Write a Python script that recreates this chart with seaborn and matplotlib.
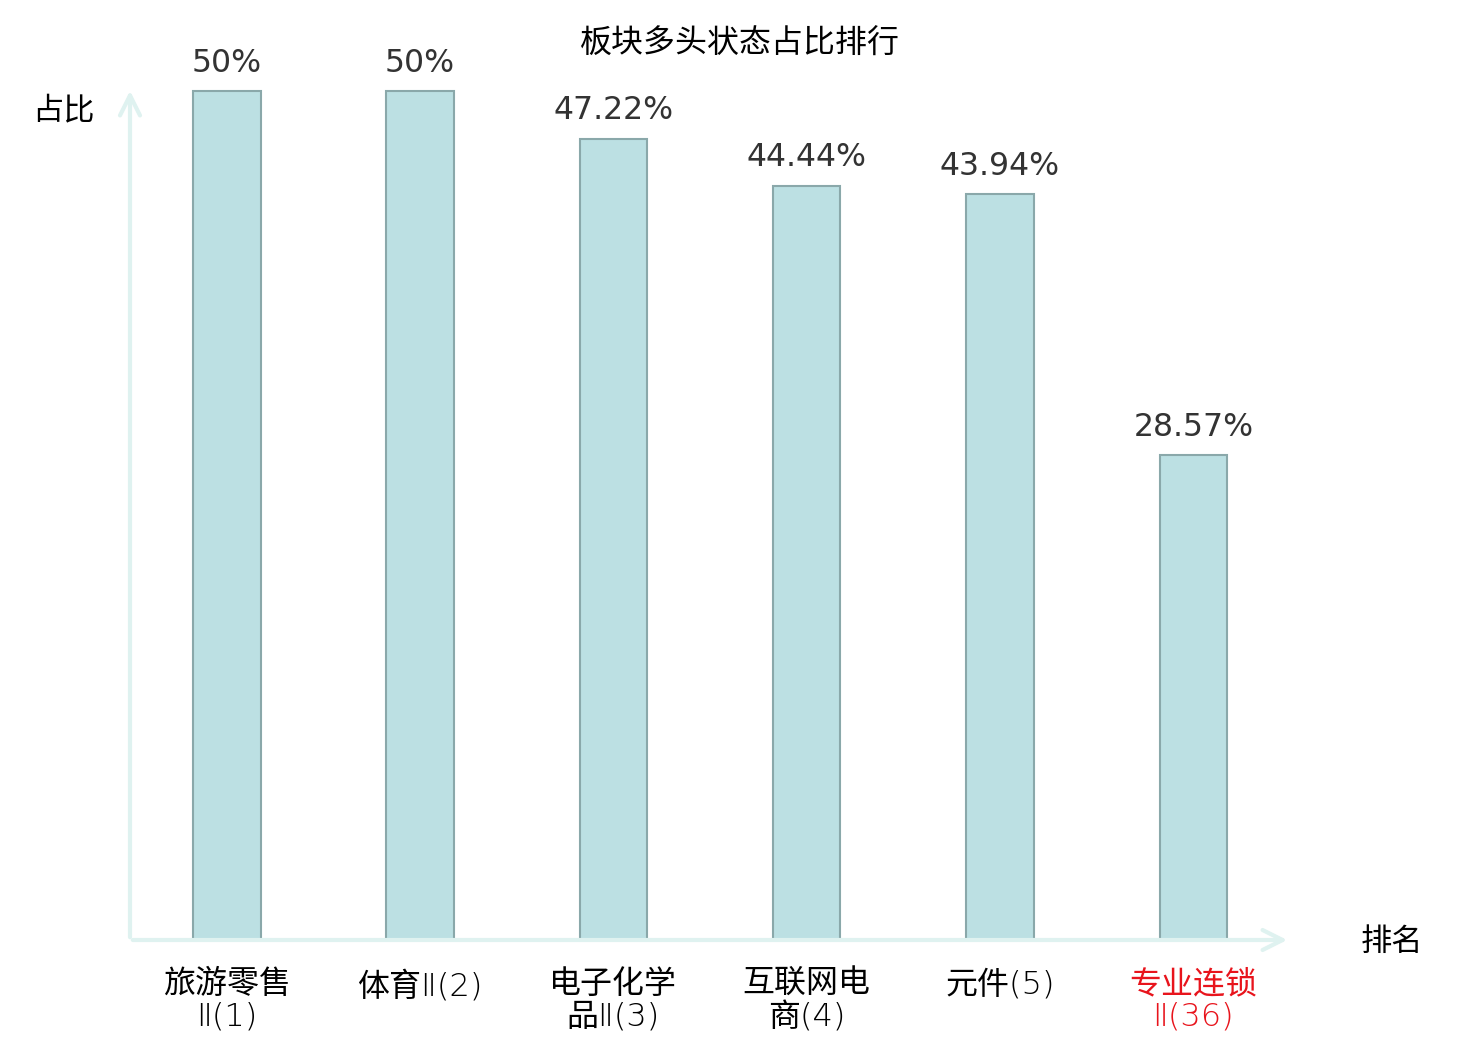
import matplotlib
matplotlib.use("Agg")
import matplotlib.pyplot as plt
import seaborn as sns
import pandas as pd

categories = ["旅游零售\nⅡ(1)", "体育Ⅱ(2)", "电子化学\n品Ⅱ(3)", "互联网电\n商(4)", "元件(5)", "专业连锁\nⅡ(36)"]
values = [50, 50, 47.22, 44.44, 43.94, 28.57]
value_labels = ["50%", "50%", "47.22%", "44.44%", "43.94%", "28.57%"]
highlight = [False, False, False, False, False, True]
title = "板块多头状态占比排行"
y_name = "占比"
x_name = "排名"

sns.set_theme(style="white")
plt.rcParams['font.family'] = ['DejaVu Sans', 'Noto Sans CJK SC']
cjk = ['Noto Sans CJK SC', 'DejaVu Sans']

fig = plt.figure(figsize=(14.8, 10.4), dpi=100)
ax = fig.add_axes([130/1480, 100/1040, 1160/1480, 852/1040])

df = pd.DataFrame({"cat": categories, "val": values})
sns.barplot(data=df, x="cat", y="val", ax=ax, color="#bce0e3", saturation=1,
            width=0.35, edgecolor="#8aa8aa", linewidth=1.5)

ax.set_xlim(-0.5, 5.5)
ax.set_ylim(0, 50.2)
for s in ax.spines.values():
    s.set_visible(False)
ax.set_yticks([])
ax.set_xlabel("")
ax.set_ylabel("")
ax.tick_params(axis="x", length=0, pad=21)
for lbl, hl in zip(ax.get_xticklabels(), highlight):
    lbl.set_color("#e8141c" if hl else "black")
    lbl.set_family(['DejaVu Sans', 'Noto Sans CJK SC'])
    lbl.set_weight("light")
    lbl.set_fontsize(23)
    lbl.set_linespacing(1.08)

axis_col = "#dff2f0"
ax.annotate("", xy=(1.0, 0), xytext=(0, 0), xycoords="axes fraction",
            arrowprops=dict(arrowstyle="->,head_length=1.2,head_width=0.6", color=axis_col, lw=3),
            annotation_clip=False)
ax.annotate("", xy=(0, 1.0), xytext=(0, 0), xycoords="axes fraction",
            arrowprops=dict(arrowstyle="->,head_length=1.2,head_width=0.6", color=axis_col, lw=3),
            annotation_clip=False)

for i, (v, t) in enumerate(zip(values, value_labels)):
    ax.annotate(t, xy=(i, v), xytext=(0, 9), textcoords="offset points",
                ha="center", va="bottom", fontsize=22.7, color="#333333", annotation_clip=False)

fig.text(740/1480, 1 - 44/1040, title, ha="center", va="center", fontsize=23, color="black", family=cjk)
fig.text(63/1480, 1 - 110/1040, y_name, ha="center", va="center", fontsize=22.5, color="black", family=cjk)
fig.text(1392/1480, 1 - 942/1040, x_name, ha="center", va="center", fontsize=22.5, color="black", family=cjk)

fig.savefig("out.png", dpi=100, facecolor="white")
